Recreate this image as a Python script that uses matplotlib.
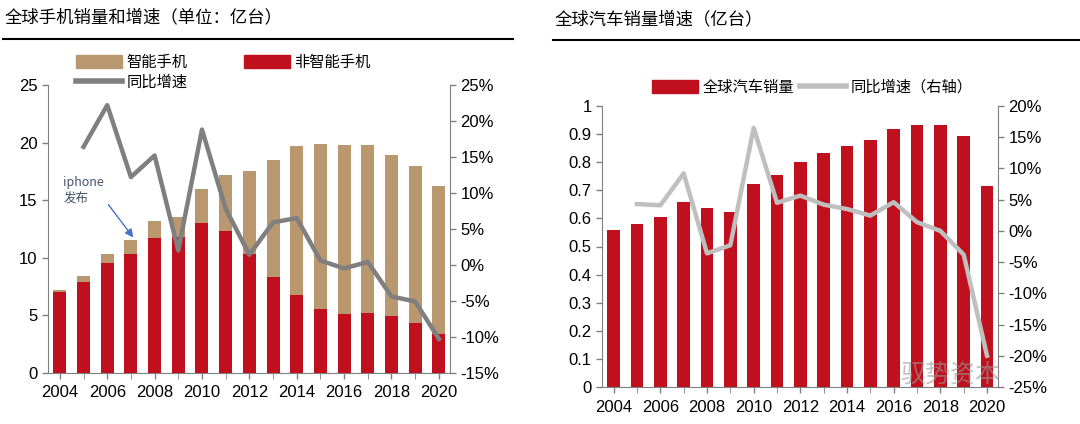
import matplotlib
matplotlib.use("Agg")
import matplotlib.pyplot as plt
from matplotlib.ticker import FuncFormatter
from matplotlib.patches import Patch
from matplotlib.lines import Line2D

plt.rcParams['font.family'] = ['Liberation Sans', 'Noto Sans CJK SC', 'DejaVu Sans']
CJK = ['Noto Sans CJK SC', 'DejaVu Sans']

years = list(range(2004, 2021))

# phones (100 million units)
phone_total = [7.2, 8.4, 10.3, 11.5, 13.2, 13.5, 16.0, 17.2, 17.5, 18.5, 19.7, 19.85, 19.75, 19.8, 18.95, 18.0, 16.2]
phone_feature = [7.0, 7.9, 9.5, 10.3, 11.7, 11.8, 13.0, 12.3, 10.3, 8.35, 6.75, 5.5, 5.07, 5.2, 4.95, 4.3, 3.33]
phone_growth_years = years[1:]
phone_growth = [16.4, 22.2, 12.2, 15.2, 2.0, 18.8, 7.8, 1.4, 5.9, 6.5, 0.6, -0.5, 0.4, -4.4, -5.1, -10.3]

# cars (100 million units)
car_sales = [0.557, 0.58, 0.604, 0.659, 0.636, 0.621, 0.723, 0.756, 0.799, 0.831, 0.858, 0.879, 0.918, 0.931, 0.931, 0.895, 0.716]
car_growth_years = years[1:]
car_growth = [4.3, 4.1, 9.2, -3.6, -2.3, 16.5, 4.5, 5.65, 4.2, 3.5, 2.45, 4.6, 1.4, 0.0, -3.8, -20.0]

RED = '#C00F1D'
TAN = '#B9976F'
DGREY = '#7F7F7F'
LGREY = '#BFBFBF'
AXC = '#808080'

fig = plt.figure(figsize=(10.8, 4.24), dpi=100)
W, H = 1080, 424


def px_axes(x0, x1, ytop, ybot):
    return fig.add_axes([x0 / W, 1 - ybot / H, (x1 - x0) / W, (ybot - ytop) / H])


def style(ax, ax2):
    for a in (ax, ax2):
        a.spines['top'].set_visible(False)
        for s in ('left', 'right', 'bottom'):
            a.spines[s].set_color(AXC)
        a.tick_params(colors='black', labelsize=12, length=4, width=1)
        a.tick_params(axis='y', color=AXC)
        a.tick_params(axis='x', color=AXC)
    ax.spines['right'].set_visible(False)
    ax2.spines['left'].set_visible(False)
    ax2.spines['bottom'].set_visible(False)
    ax.set_xticks(years, minor=True)
    ax.set_xticks(years[::2])
    ax.tick_params(axis='x', which='minor', length=4, color=AXC)
    ax.tick_params(axis='x', which='major', length=4, pad=5)


pct = FuncFormatter(lambda v, p: f'{v:.0f}%')

# ---- left chart: phones ----
ax = px_axes(48, 450, 85, 372.7)
ax2 = ax.twinx()
ax.bar(years, phone_total, width=0.55, color=TAN, zorder=2)
ax.bar(years, phone_feature, width=0.55, color=RED, zorder=3)
ax2.plot(phone_growth_years, phone_growth, color=DGREY, lw=3.2, zorder=4)
ax.set_xlim(2003.5, 2020.47)
ax.set_ylim(0, 25)
ax.set_yticks(range(0, 26, 5))
ax2.set_ylim(-15, 25)
ax2.set_yticks(range(-15, 26, 5))
ax2.yaxis.set_major_formatter(pct)
style(ax, ax2)
ax.text(2004.15, 17.1, 'iphone\n发布', fontsize=9, color='#44546A', family=CJK,
        linespacing=1.35, va='top', ha='left')
ax.annotate('', xy=(2007.1, 11.75), xytext=(2006.05, 14.6),
            arrowprops=dict(arrowstyle='-|>', color='#4472C4', lw=1, mutation_scale=12,
                            shrinkA=0, shrinkB=0))

fig.text(5 / W, 1 - 17 / H, '全球手机销量和增速（单位：亿台）', fontsize=12.5, family=CJK,
         va='center', ha='left')
fig.add_artist(Line2D([3 / W, 513 / W], [1 - 39 / H] * 2, color='black', lw=1.5))

h1 = [Patch(color=TAN), Line2D([], [], color=DGREY, lw=4), Patch(color=RED)]
l1 = ['智能手机', '同比增速', '非智能手机']
fig.legend(h1, l1, loc='upper left', bbox_to_anchor=(62 / W, 1 - 40 / H), ncol=2,
           frameon=False, prop={'family': CJK, 'size': 11}, handlelength=3,
           handleheight=0.9, columnspacing=3.7, handletextpad=0.3, labelspacing=0.2)

# ---- right chart: cars ----
bx = px_axes(602, 998, 106, 387)
bx2 = bx.twinx()
bx.bar(years, car_sales, width=0.55, color=RED, zorder=2)
bx2.plot(car_growth_years, car_growth, color=LGREY, lw=3.2, zorder=4)
bx.set_xlim(2003.5, 2020.47)
bx.set_ylim(0, 1)
bx.set_yticks([i / 10 for i in range(11)])
bx.yaxis.set_major_formatter(FuncFormatter(lambda v, p: f'{v:g}'))
bx2.set_ylim(-25, 20)
bx2.set_yticks(range(-25, 21, 5))
bx2.yaxis.set_major_formatter(pct)
style(bx, bx2)

fig.text(555 / W, 1 - 19 / H, '全球汽车销量增速（亿台）', fontsize=12.5, family=CJK,
         va='center', ha='left')
fig.add_artist(Line2D([553 / W, 1080 / W], [1 - 40 / H] * 2, color='black', lw=1.5))

h2 = [Patch(color=RED), Line2D([], [], color=LGREY, lw=4)]
l2 = ['全球汽车销量', '同比增速（右轴）']
fig.legend(h2, l2, loc='center left', bbox_to_anchor=(638 / W, 1 - 87 / H), ncol=2,
           frameon=False, prop={'family': CJK, 'size': 11}, handlelength=3,
           handleheight=0.9, columnspacing=0.4, handletextpad=0.3)

# watermark
fig.text(900 / W, 1 - 376 / H, '驭势资本', fontsize=18, family=CJK, color='#9A9A9A',
         alpha=0.6, ha='left', va='center')

fig.savefig('out.png', dpi=100)
